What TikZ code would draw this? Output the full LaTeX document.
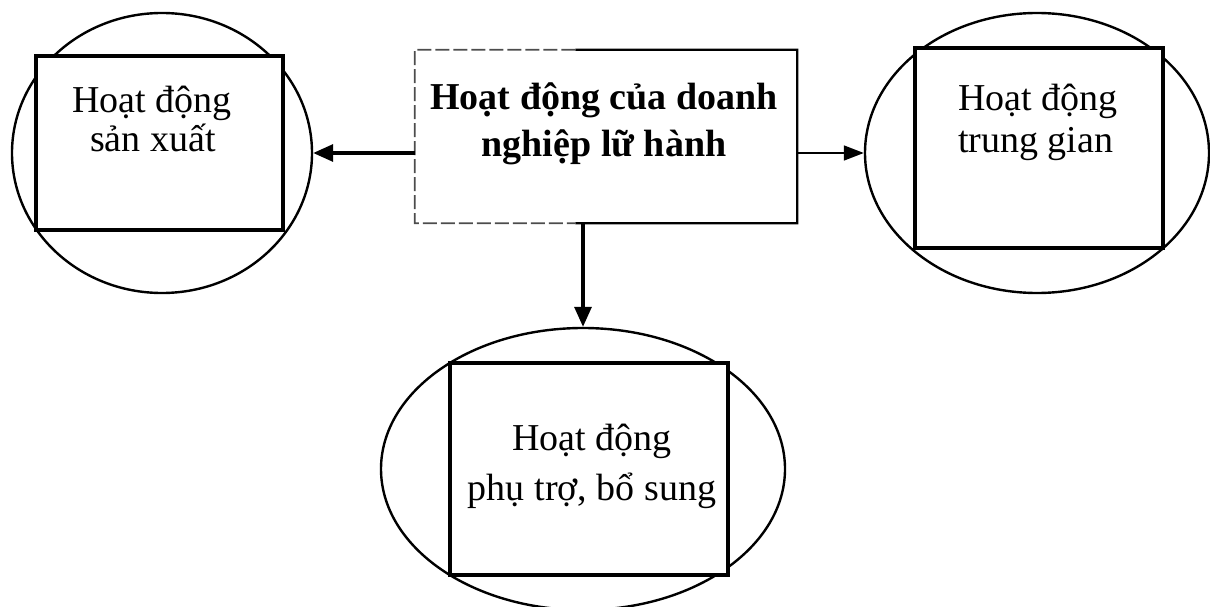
\documentclass[tikz,border=0pt]{standalone}
\usepackage{fontspec}
\setmainfont{Liberation Serif}
\usetikzlibrary{shapes.geometric,arrows.meta,calc}
\newcommand{\linesc}[2]{\begin{tabular}[t]{@{}c@{}}#1\\#2\end{tabular}}
\newcommand{\linesl}[2]{\begin{tabular}[t]{@{}l@{}}#1\\#2\end{tabular}}
\begin{document}
\begin{tikzpicture}[x=1pt,y=-1pt,
  oval/.style={draw,ellipse,line width=2.4pt,inner sep=0pt},
  panel/.style={draw,fill=white,line width=3.4pt,inner sep=0pt},
  lbl/.style={inner sep=0pt,anchor=base},
  thickarrow/.style={line width=3.2pt,-{Triangle[length=20pt,width=17pt]}},
  thinarrow/.style={line width=1.6pt,-{Triangle[length=20pt,width=15pt]}}
]
\useasboundingbox (0,0) rectangle (1210,607);

% outer ovals
\node[oval,minimum width=300pt,minimum height=280pt] (prod)  at (162,153) {};
\node[oval,minimum width=344pt,minimum height=280pt] (inter) at (1037,153) {};
\node[oval,minimum width=404pt,minimum height=282pt] (aux)   at (583,469) {};

% inner boxes
\node[panel,minimum width=247pt,minimum height=174pt] (prodbox)  at (159.5,143) {};
\node[panel,minimum width=248pt,minimum height=200pt] (interbox) at (1039,148) {};
\node[panel,minimum width=278pt,minimum height=212pt] (auxbox)   at (589,469) {};

% central box: solid on the right, broken on the left
\node[inner sep=0pt,minimum width=382pt,minimum height=173pt] (hub) at (606,136.5) {};
\coordinate (hubtop) at ($(hub.north west)!0.42!(hub.north east)$);
\coordinate (hubbot) at ($(hub.south west)!0.42!(hub.south east)$);
\draw[line width=2.4pt] (hubtop) -- (hub.north east) -- (hub.south east) -- (hubbot);
\draw[line width=1.8pt,black!70,dash pattern=on 14pt off 4pt]
  (hubtop) -- (hub.north west) -- (hub.south west) -- (hubbot);

% labels
\node[lbl,font=\bfseries\fontsize{38}{47}\selectfont] (hubtxt) at (604,110)
  {\linesc{Hoạt động của doanh}{nghiệp lữ hành}};
\node[lbl,anchor=base west,font=\fontsize{38}{38}\selectfont] (prodtxt) at (72,113)
  {\linesl{Hoạt động}{\hspace{18pt}sản xuất}};
\node[lbl,anchor=base west,font=\fontsize{38}{42}\selectfont] (intertxt) at (958,111)
  {\linesl{Hoạt động}{trung gian}};
\node[lbl,font=\fontsize{38}{50}\selectfont] (auxtxt) at (592,450)
  {\linesc{Hoạt động}{phụ trợ, bổ sung}};

% connectors
\draw[thickarrow] (prod.east -| hub.west) -- (prod.east);
\draw[thinarrow]  (inter.west -| hub.east) -- (inter.west);
\draw[thickarrow] (hub.south -| aux.north) -- (aux.north);
\end{tikzpicture}
\end{document}
